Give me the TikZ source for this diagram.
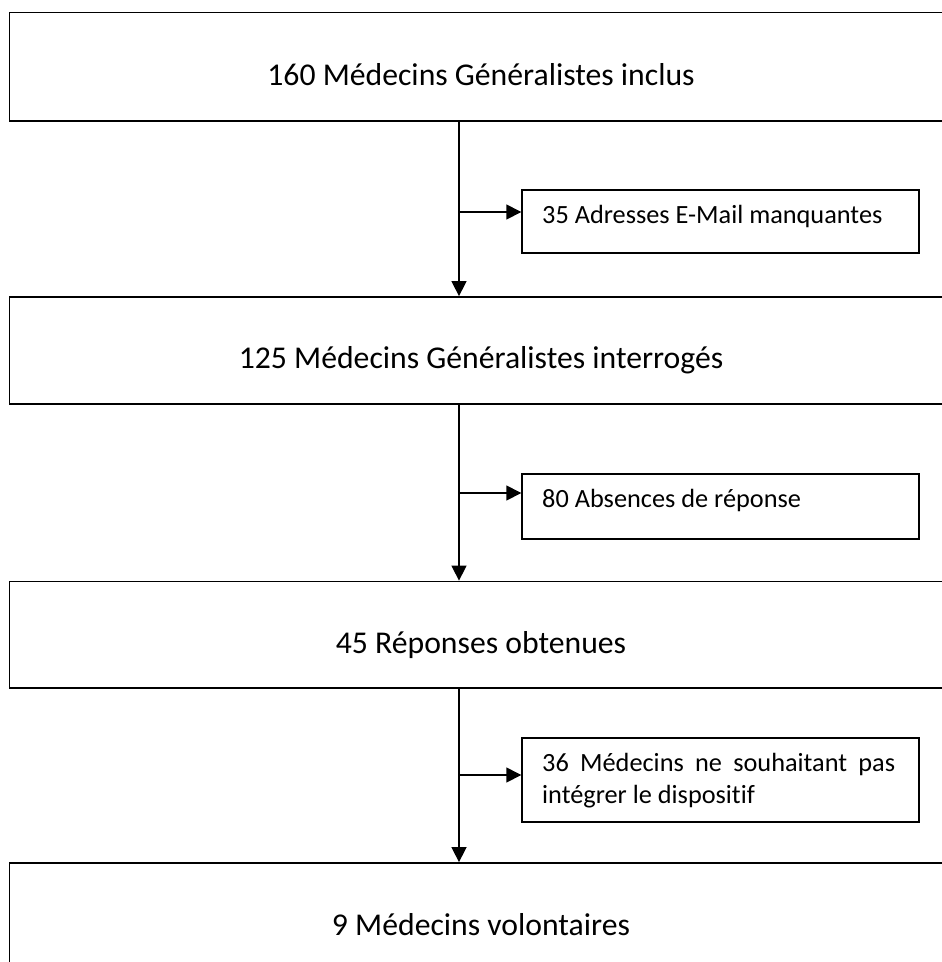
\documentclass[tikz,border=0pt]{standalone}
\usepackage{fontspec}
\setmainfont{Carlito}[Ligatures=NoCommon]
\usetikzlibrary{arrows.meta}
\begin{document}
\begin{tikzpicture}[x=1pt,y=-1pt,
  bigbox/.style={draw, line width=1.8pt, inner sep=0pt},
  smallbox/.style={draw, line width=1.4pt, inner sep=0pt},
  flow/.style={line width=1.5pt, -{Triangle[width=15pt,length=15pt]}},
  bigtext/.style={anchor=base, font=\fontsize{31.7}{38}\selectfont, inner sep=0pt},
  smalltext/.style={anchor=base west, font=\fontsize{26.3}{32}\selectfont, inner sep=0pt}]
\useasboundingbox (0,0) rectangle (942,962);
\fill[white] (0,0) rectangle (942,962);
% big boxes
\node[bigbox, minimum width=943.5pt, minimum height=108.5pt] (b1) at (481.25,66.75) {};
\node[bigbox, minimum width=943.5pt, minimum height=107pt] (b2) at (481.25,350.5) {};
\node[bigbox, minimum width=943.5pt, minimum height=106.5pt] (b3) at (481.25,634.75) {};
\node[bigbox, minimum width=943.5pt, minimum height=107pt] (b4) at (481.25,916.5) {};
\node[bigtext] (t1) at (481,85) {160 Médecins Généralistes inclus};
\node[bigtext] (t2) at (481,368) {125 Médecins Généralistes interrogés};
\node[bigtext] (t3) at (481,653) {45 Réponses obtenues};
\node[bigtext] (t4) at (481,935) {9 Médecins volontaires};
% small boxes
\node[smallbox, minimum width=397pt, minimum height=63pt] (s1) at (720.5,221.5) {};
\node[smallbox, minimum width=397pt, minimum height=65pt] (s2) at (720.5,506.5) {};
\node[smallbox, minimum width=397pt, minimum height=84pt] (s3) at (720.5,780) {};
\node[smalltext] (u1) at (542,223) {35 Adresses E-Mail manquantes};
\node[smalltext] (u2) at (542,507) {80 Absences de réponse};
\node[smalltext] (u3) at (542,771) {\makebox[353pt][s]{36 Médecins ne souhaitant pas}};
\node[smalltext] (u4) at (542,803) {intégrer le dispositif};
% spine and junctions
\coordinate (spine) at (459,0);
\coordinate (j1) at (459,212);
\coordinate (j2) at (459,493);
\coordinate (j3) at (459,775);
\draw[flow] (b1.south -| spine) -- (b2.north -| spine);
\draw[flow] (b2.south -| spine) -- (b3.north -| spine);
\draw[flow] (b3.south -| spine) -- (b4.north -| spine);
\draw[flow] (j1) -- (j1 -| s1.west);
\draw[flow] (j2) -- (j2 -| s2.west);
\draw[flow] (j3) -- (j3 -| s3.west);
\end{tikzpicture}
\end{document}
